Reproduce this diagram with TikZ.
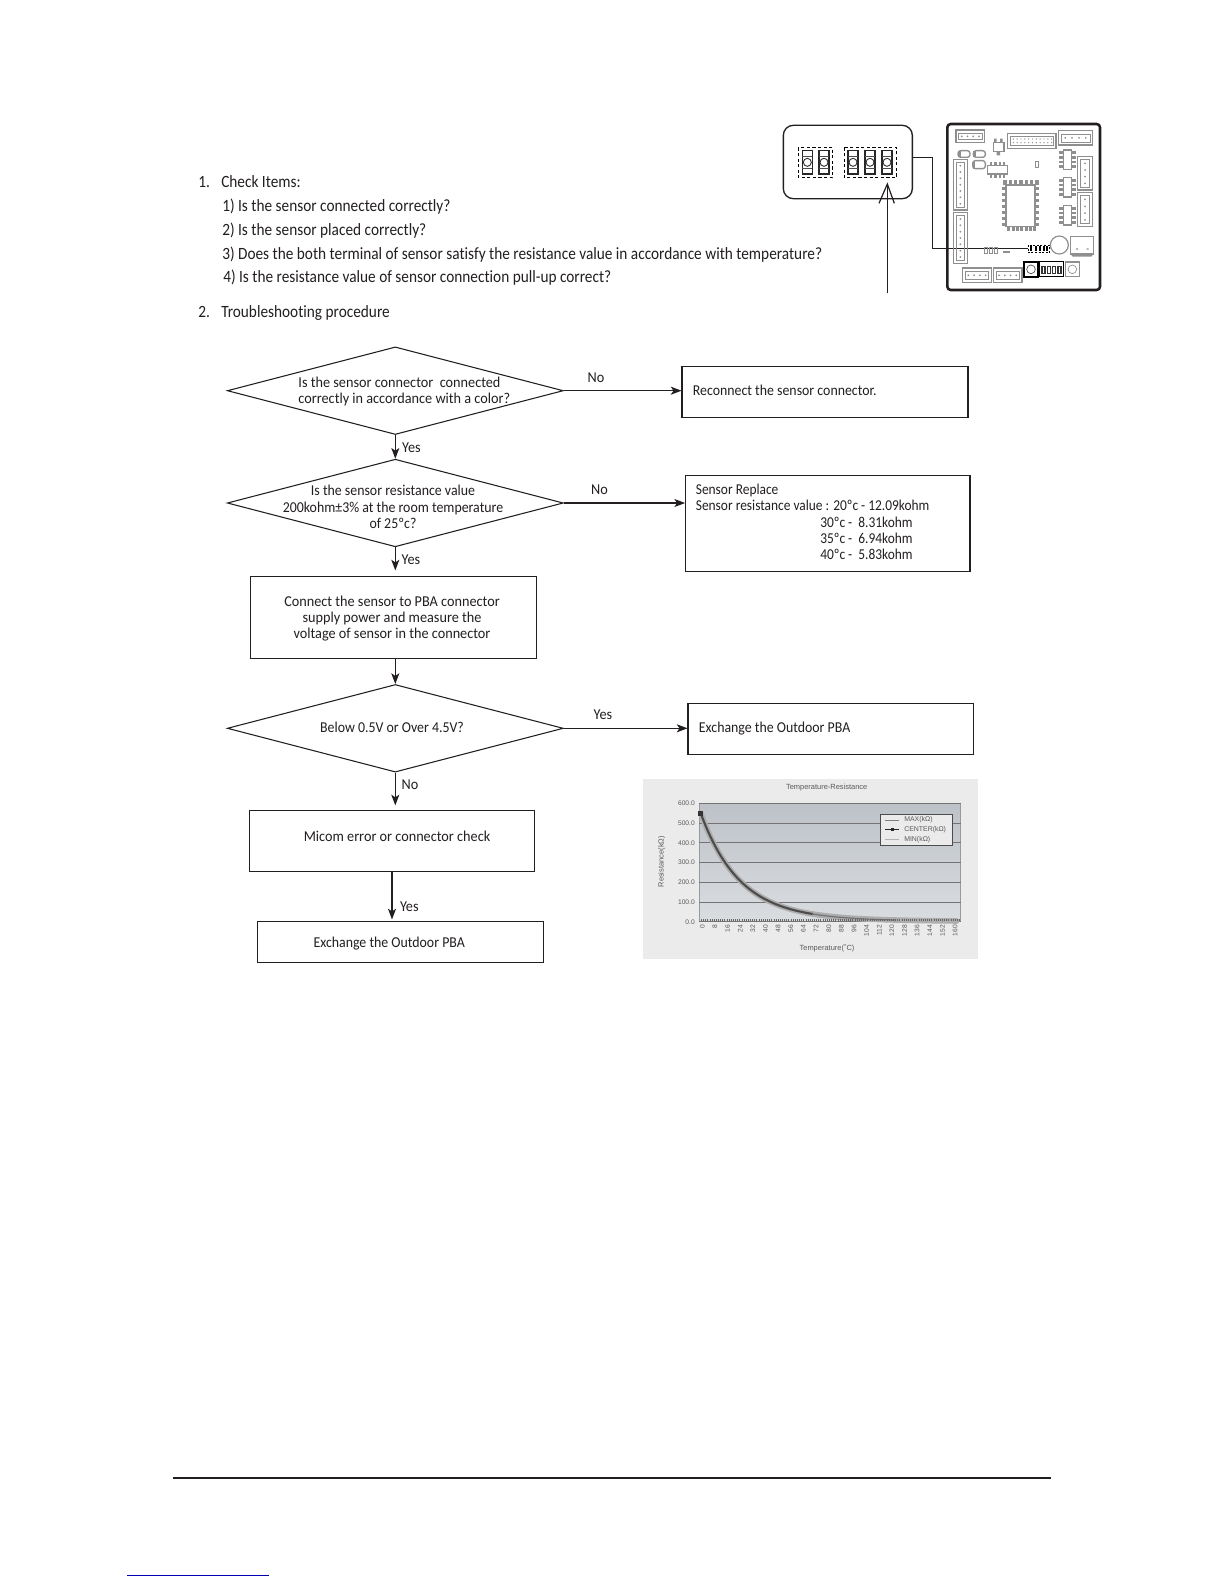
\documentclass[tikz,border=0pt]{standalone}
\usepackage{fontspec}
\setmainfont{Carlito}
\newfontfamily\chartfont{Liberation Sans}
\newfontfamily\fontA[FakeStretch=0.89,Ligatures=NoCommon]{Carlito}
\newfontfamily\fontB[FakeStretch=0.92,Ligatures=NoCommon]{Carlito}
\newfontfamily\fontC[FakeStretch=0.945,Ligatures=NoCommon]{Carlito}
\usetikzlibrary{arrows.meta,shapes.geometric}
\def\pxu{0.75pt}
\definecolor{ink}{HTML}{231F20}
\definecolor{bgrey}{HTML}{8F8F8F}
\definecolor{chartbg}{HTML}{EBEBEB}
\definecolor{chartink}{HTML}{5A5A5A}
\definecolor{plottop}{HTML}{BDC2C8}
\definecolor{plotbot}{HTML}{DADDE0}
\tikzset{
  flowline/.style={draw=ink,line width=0.8pt},
  flowarrow/.style={flowline,-{Stealth[length=8pt,width=6pt,inset=2pt]}},
  flowbox/.style={draw=ink,line width=0.8pt,rectangle,inner sep=0pt},
  flowdia/.style={draw=ink,line width=0.8pt,diamond,inner sep=0pt,aspect=3.85,minimum width=336*\pxu,minimum height=87.6*\pxu},
  txt/.style={inner sep=0pt,text=ink,font=\fontC\fontsize{11.3}{12.25}\selectfont,align=center},
  txtb/.style={txt,font=\fontB\fontsize{11.3}{12.25}\selectfont},
  txta/.style={txt,font=\fontA\fontsize{11.3}{12.25}\selectfont},
  ltxt/.style={anchor=west,align=left},
  head/.style={inner sep=0pt,text=ink,anchor=base west,font=\fontA\fontsize{12.9}{14}\selectfont},
  compg/.style={draw=bgrey,line width=1pt},
  ctick/.style={inner sep=0pt,text=chartink,font=\chartfont\fontsize{5}{5}\selectfont},
  ctitle/.style={inner sep=0pt,text=chartink,font=\chartfont\fontsize{5.6}{6}\selectfont},
}
\begin{document}
\begin{tikzpicture}[x=0.75pt,y=-0.75pt]
\useasboundingbox (0,0) rectangle (1224,1584);
\fill[white] (0,0) rectangle (1224,1584);

% header text
\node[head] (n1) at (198,187) {1.};
\node[head] (h0) at (221,187) {Check Items:};
\node[head] (h1) at (222,211) {1) Is the sensor connected correctly?};
\node[head] (h2) at (222,235) {2) Is the sensor placed correctly?};
\node[head] (h3) at (222,259) {3) Does the both terminal of sensor satisfy the resistance value in accordance with temperature?};
\node[head] (h4) at (223,282.6) {4) Is the resistance value of sensor connection pull-up correct?};
\node[head] (n2) at (198,317.5) {2.};
\node[head] (h5) at (221,317.5) {Troubleshooting procedure};

% flowchart shapes
\node[flowdia] (d1) at (395.3,390.7) {};
\node[flowdia] (d2) at (395.3,503) {};
\node[flowdia] (d3) at (395.3,728.3) {};
\node[flowbox,minimum width=286*\pxu,minimum height=50.6*\pxu] (b1) at (825,392) {};
\node[flowbox,minimum width=284.4*\pxu,minimum height=96*\pxu] (b2) at (827.8,523.3) {};
\node[flowbox,minimum width=285.6*\pxu,minimum height=82*\pxu] (b3) at (393.6,617.3) {};
\node[flowbox,minimum width=285.2*\pxu,minimum height=51*\pxu] (b4) at (830.6,728.8) {};
\node[flowbox,minimum width=285.4*\pxu,minimum height=61*\pxu] (b5) at (392,840.8) {};
\node[flowbox,minimum width=286.4*\pxu,minimum height=41*\pxu] (b6) at (400.5,941.8) {};

% flowchart text
\node[txt,ltxt] (t1) at (298.2,391.7) {Is the sensor connector\ \ connected\\correctly in accordance with a color?};
\node[txtb] (t2) at (393,507) {Is the sensor resistance value\\200kohm±3\% at the room temperature\\of 25ºc?};
\node[txtb] (t3) at (392,727.7) {Below 0.5V or Over 4.5V?};
\node[txtb,ltxt] (t4) at (692.6,390) {Reconnect the sensor connector.};
\node[txta,ltxt] (t5) at (695.6,522) {Sensor Replace\\Sensor resistance value : 20ºc - 12.09kohm\\\hspace*{93.3pt}30ºc -\ \ 8.31kohm\\\hspace*{93.3pt}35ºc -\ \ 6.94kohm\\\hspace*{93.3pt}40ºc -\ \ 5.83kohm};
\node[txt] (t6) at (392,618.7) {Connect the sensor to PBA connector\\supply power and measure the\\voltage of sensor in the connector};
\node[txtb,ltxt] (t7) at (698.7,729) {Exchange the Outdoor PBA};
\node[txt] (t8) at (397,836.7) {Micom error or connector check};
\node[txtb] (t9) at (389.2,943.5) {Exchange the Outdoor PBA};

% flowchart connectors
\draw[flowarrow] (d1.south) -- (d2.north);
\draw[flowarrow,shorten >=4pt] (d2.south) -- (d2.south |- b3.north);
\draw[flowarrow] (d3.north |- b3.south) -- (d3.north);
\draw[flowarrow,shorten >=3.3pt] (d3.south) -- (d3.south |- b5.north);
\draw[flowarrow,shorten >=1pt] (b5.south) -- (b5.south |- b6.north);
\draw[flowarrow] (d1.east) -- (d1.east -| b1.west);
\draw[flowarrow] (d2.east) -- (d2.east -| b2.west);
\draw[flowarrow] (d3.east) -- (d3.east -| b4.west);

% connector labels
\node[txt] (l1) at (596,377.3) {No};
\node[txt] (l2) at (411.5,447.3) {Yes};
\node[txt] (l3) at (599.4,489.3) {No};
\node[txt] (l4) at (411,560) {Yes};
\node[txt] (l5) at (603,714.7) {Yes};
\node[txt] (l6) at (410,784.7) {No};
\node[txt] (l7) at (409.3,907) {Yes};

% enlarged detail of the board
\begin{scope}[shift={(770,110)},x=0.25pt,y=-0.25pt]
  \draw[ink,line width=1pt,rounded corners=7.5pt] (40,46) rectangle (427,266);
  \draw[black,line width=0.7pt,dash pattern=on 2.4pt off 1.8pt] (85,112) rectangle (188,203);
  \draw[black,line width=0.7pt,dash pattern=on 2.4pt off 1.8pt] (222,112) rectangle (380,203);
  \foreach \cx in {112,162,249,300,351}{
    \draw[black!85,line width=0.9pt] (\cx-15,122) rectangle (\cx+15,192);
    \draw[black!70,line width=0.5pt] (\cx-15,138) -- (\cx+15,138) (\cx-15,176) -- (\cx+15,176);
    \fill[white,draw=black!80,line width=0.7pt] (\cx,157) circle[radius=12];
  }
  \draw[ink,line width=0.9pt] (430,142) -- (487,142) -- (487,415) -- (775,415);
  \draw[ink,line width=0.9pt] (352,550) -- (352,225);
  \draw[ink,line width=0.9pt] (327,280) -- (352,222) -- (373,280);

  % board
  \draw[ink,line width=1.9pt,rounded corners=2.5pt] (532,42) rectangle (990,540);
  % connectors
  \foreach \a/\b/\c/\d in {558/60/644/98,865/62/968/105,578/474/664/518,670/474/756/518}{
    \draw[compg] (\a,\b) rectangle (\c,\d);
    \draw[compg,line width=0.5pt] (\a+8,\b+10) rectangle (\c-8,\d-9);
    \foreach \k in {0.2,0.4,0.6,0.8}{\fill[bgrey] ({\a+(\c-\a)*\k},{(\b+\d)/2}) circle[radius=3];}
  }
  \draw[compg] (712,70) rectangle (858,115);
  \draw[compg,line width=0.5pt] (722,80) rectangle (850,105);
  \foreach \k in {0,...,10}{
    \fill[bgrey] (730+\k*11.5,87) circle[radius=2.2];
    \fill[bgrey] (730+\k*11.5,98) circle[radius=2.2];
  }
  \foreach \a/\b/\c/\d/\n in {550/148/592/300/7,550/308/592/460/7,922/140/968/240/4,922/248/968/350/4}{
    \draw[compg] (\a,\b) rectangle (\c,\d);
    \draw[compg,line width=0.5pt] (\a+10,\b+9) rectangle (\c-10,\d-9);
    \foreach \k in {1,...,\n}{\fill[bgrey] ({(\a+\c)/2},{\b+(\d-\b)*\k/(\n+1)}) circle[radius=3];}
  }
  % SOIC packages
  \foreach \y in {120,203,287}{
    \draw[compg] (880,\y) rectangle (905,\y+58);
    \foreach \k in {8,22,36,50}{
      \fill[bgrey] (868,\y+\k-4) rectangle (880,\y+\k+4);
      \fill[bgrey] (905,\y+\k-4) rectangle (918,\y+\k+4);
    }
  }
  % QFP
  \draw[compg] (708,225) rectangle (795,350);
  \foreach \k in {0,...,6}{
    \fill[bgrey] (700+\k*16,211) rectangle (710+\k*16,224);
    \fill[bgrey] (712+\k*13,351) rectangle (721+\k*13,362);
    \fill[bgrey] (696,230+\k*18) rectangle (707,240+\k*18);
    \fill[bgrey] (796,230+\k*18) rectangle (807,240+\k*18);
  }
  % small parts
  \draw[compg] (670,98) rectangle (702,124);
  \fill[bgrey] (672,86) rectangle (680,98) (690,86) rectangle (698,98) (680,124) rectangle (690,136);
  \foreach \a/\b/\c/\d in {564/122/600/142,610/122/646/142,608/152/646/176}{
    \draw[compg,rounded corners=2pt] (\a,\b) rectangle (\c,\d);
    \fill[bgrey] (\a,\b) rectangle (\a+8,\d);
  }
  \draw[compg] (652,167) rectangle (712,192);
  \foreach \k in {0,1,2,3}{
    \fill[bgrey] (660+\k*13,156) rectangle (667+\k*13,167);
    \fill[bgrey] (660+\k*13,192) rectangle (667+\k*13,205);
  }
  \draw[compg] (796,154) rectangle (806,172);
  \foreach \k in {0,1,2}{\draw[compg] (643+\k*15,412) rectangle (652+\k*15,431);}
  \fill[bgrey] (700,424) rectangle (720,428);
  \draw[black,line width=0.5pt,dash pattern=on 1.5pt off 1.2pt] (775,405) rectangle (838,428);
  \foreach \k in {780,794,808,818,828}{\fill[black] (\k,409) rectangle (\k+6,424);}
  \draw[bgrey,line width=0.9pt] (868,405) circle[radius=27];
  \draw[compg] (902,380) rectangle (970,432);
  \fill[bgrey] (902,432) -- (970,432) -- (964,440) -- (908,440) -- cycle;
  \fill[bgrey] (918,415) rectangle (924,419) (950,415) rectangle (956,419);
  \draw[black,line width=1.3pt] (762,456) rectangle (804,500);
  \draw[black!70,line width=0.5pt] (783,478) circle[radius=13];
  \draw[black,line width=1pt] (808,454) rectangle (880,500);
  \foreach \k in {816,832,848,864}{\draw[black!80,line width=0.8pt] (\k,470) rectangle (\k+9,490);}
  \draw[compg] (886,456) rectangle (928,500);
  \draw[compg,line width=0.5pt] (907,478) circle[radius=13];
\end{scope}

% chart
\fill[chartbg] (643.3,779) rectangle (977.7,959.3);
\shade[top color=plottop,bottom color=plotbot] (699,803.3) rectangle (960.7,921.7);
\draw[black!40,line width=0.5pt] (699,803.3) rectangle (960.7,921.7);
\foreach \v/\lab in {0/0.0,1/100.0,2/200.0,3/300.0,4/400.0,5/500.0,6/600.0}{
  \pgfmathsetmacro{\yy}{921.7-\v*19.73}
  \draw[black!55,line width=0.5pt] (699,\yy) -- (960.7,\yy);
  \node[ctick,anchor=east] (yl\v) at (695,\yy) {\lab};
}
\foreach \t in {0,8,...,160}{
  \pgfmathsetmacro{\xx}{702.3+\t*1.58}
  \node[ctick,rotate=90,anchor=east] (xl\t) at (\xx,925) {\t};
}
\draw[black!32,line width=4.2pt,line cap=round] plot[domain=0:160,samples=90,smooth] ({700.7+1.6*\x},{921.7-0.1973*(520*exp(-\x/24)+30*exp(-\x/70))});
\draw[black!70,line width=1.6pt] plot[domain=0:70,samples=50,smooth] ({700.7+1.6*\x},{921.7-0.1973*(520*exp(-\x/24)+30*exp(-\x/70))});
\draw[black!55,line width=0.9pt] plot[domain=70:122,samples=30,smooth] ({700.7+1.6*\x},{921.7-0.1973*(520*exp(-\x/24)+30*exp(-\x/70))});
\draw[black!60,line width=1.3pt,dash pattern=on 0.7pt off 0.9pt] (701,920) -- (960,920);
\fill[black!80] (697.8,811) rectangle (702.8,816);
\node[ctitle] (ct) at (826.7,788) {Temperature-Resistance};
\node[ctitle,rotate=90] (cy) at (661.7,861.7) {Resistance(kΩ)};
\node[ctitle] (cx) at (827,948) {Temperature(˚C)};
\draw[black!70,fill=chartbg,line width=0.5pt] (880.3,814.3) rectangle (952.7,845.3);
\draw[black!50,line width=0.4pt] (885,820) -- (899.3,820);
\draw[black!85,line width=1pt] (885,829.7) -- (899.3,829.7);
\fill[black!85] (890.5,828.2) rectangle (893.5,831.2);
\draw[black!30,line width=1.2pt] (885,839.3) -- (899.3,839.3);
\node[ctick,anchor=west,font=\chartfont\fontsize{5.2}{5}\selectfont] (lg1) at (904,820) {MAX(kΩ)};
\node[ctick,anchor=west,font=\chartfont\fontsize{5.2}{5}\selectfont] (lg2) at (904,829.7) {CENTER(kΩ)};
\node[ctick,anchor=west,font=\chartfont\fontsize{5.2}{5}\selectfont] (lg3) at (904,839.3) {MIN(kΩ)};

% footer rules
\fill[ink] (172.7,1477) rectangle (1051,1479);
\fill[blue!70!black] (126.8,1574.8) rectangle (269,1575.8);
\end{tikzpicture}
\end{document}
